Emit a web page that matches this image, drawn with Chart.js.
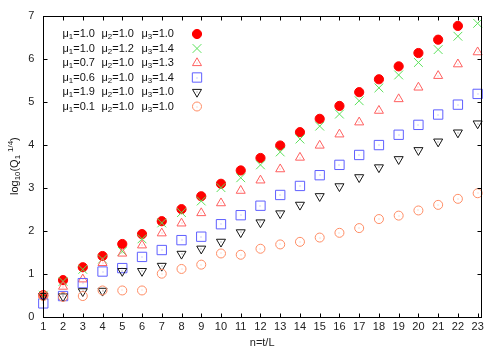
<!DOCTYPE html>
<html>
<head>
<meta charset="utf-8">
<script src="https://cdn.jsdelivr.net/npm/chart.js@4/dist/chart.umd.min.js"></script>
<style>
  html, body { margin: 0; padding: 0; background: #fff; }
  #wrap { width: 500px; height: 350px; }
</style>
</head>
<body>
<div id="wrap"><canvas id="graph" width="500" height="350"></canvas></div>
<script>
// valores (n = t/L)
const nValues = [1,2,3,4,5,6,7,8,9,10,11,12,13,14,15,16,17,18,19,20,21,22,23];
const yTicks = [0,1,2,3,4,5,6,7];

const mu1 = ['1.0','1.0','0.7','0.6','1.9','0.1'];
const mu2 = ['1.0','1.2','1.0','1.0','1.0','1.0'];
const mu3 = ['1.0','1.4','1.3','1.4','1.0','1.0'];

const serieA = [0.50,0.85,1.15,1.41,1.69,1.92,2.22,2.50,2.80,3.09,3.40,3.69,3.98,4.29,4.60,4.90,5.22,5.52,5.82,6.13,6.44,6.76,null];
const serieB = [0.50,0.82,1.10,1.34,1.52,1.81,2.18,2.42,2.69,3.00,3.23,3.53,3.83,4.13,4.43,4.71,5.02,5.32,5.62,5.91,6.21,6.52,6.82];
const serieC = [0.50,0.70,0.87,1.25,1.47,1.66,1.94,2.17,2.41,2.64,2.93,3.17,3.43,3.70,3.98,4.24,4.52,4.79,5.06,5.33,5.60,5.87,6.15];
const serieD = [0.31,0.48,0.78,1.05,1.13,1.39,1.55,1.78,1.86,2.15,2.36,2.58,2.83,3.04,3.29,3.53,3.76,3.99,4.23,4.46,4.70,4.93,5.18];
const serieE = [0.48,0.47,0.59,0.60,1.06,1.06,1.18,1.46,1.58,1.74,1.96,2.19,2.40,2.60,2.80,3.03,3.24,3.47,3.66,3.87,4.07,4.28,4.49];
const serieF = [0.48,0.46,0.48,0.61,0.61,0.61,1.00,1.11,1.21,1.47,1.44,1.58,1.68,1.74,1.84,1.95,2.06,2.27,2.35,2.47,2.60,2.74,2.87];

const series = [serieA, serieB, serieC, serieD, serieE, serieF];

// estilo de cada série (marcadores do gnuplot)
const estilos = [
  { pointStyle: 'circle',   radius: 4.6, rotation: 0,   color: 'rgb(255,0,0)',     fill: 'rgb(255,0,0)' },
  { pointStyle: 'crossRot', radius: 6.2, rotation: 0,   color: 'rgb(90,225,90)',   fill: 'transparent' },
  { pointStyle: 'triangle', radius: 5.2, rotation: 0,   color: 'rgb(255,95,95)',   fill: 'transparent' },
  { pointStyle: 'rect',     radius: 6.6, rotation: 0,   color: 'rgb(95,95,255)',   fill: 'transparent' },
  { pointStyle: 'triangle', radius: 5.2, rotation: 180, color: 'rgb(20,20,20)',    fill: 'transparent' },
  { pointStyle: 'circle',   radius: 4.5, rotation: 0,   color: 'rgb(255,140,100)', fill: 'transparent' }
];

const FONT = '"Liberation Sans", Arial, Helvetica, sans-serif';

const datasets = series.map((vals, i) => ({
  data: nValues.map((n, k) => ({ x: n, y: vals[k] })),
  showLine: false,
  pointStyle: estilos[i].pointStyle,
  pointRadius: estilos[i].radius,
  pointHoverRadius: estilos[i].radius,
  pointRotation: estilos[i].rotation,
  borderColor: estilos[i].color,
  backgroundColor: estilos[i].fill,
  pointBorderWidth: 1,
  clip: false,
  order: 6 - i
}));

// desenha texto com subscrito/sobrescrito, partes: [texto, 'n'|'sub'|'sup']
function textoRico(ctx, partes, x, y, size) {
  let cx = x;
  partes.forEach(([t, modo]) => {
    const s = modo === 'n' ? size : size * 0.72;
    const dy = modo === 'sub' ? size * 0.3 : (modo === 'sup' ? -size * 0.38 : 0);
    ctx.font = s + 'px ' + FONT;
    ctx.fillText(t, cx, y + dy);
    cx += ctx.measureText(t).width;
  });
  return cx - x;
}
function larguraRica(ctx, partes, size) {
  let w = 0;
  partes.forEach(([t, modo]) => {
    const s = modo === 'n' ? size : size * 0.72;
    ctx.font = s + 'px ' + FONT;
    w += ctx.measureText(t).width;
  });
  return w;
}

// pontinho central dos marcadores vazios (como no gnuplot)
const pontoPlugin = {
  id: 'ponto',
  afterDatasetsDraw(chart) {
    const ctx = chart.ctx;
    ctx.save();
    chart.data.datasets.forEach((ds, i) => {
      if (i === 0 || i === 1) return;
      const meta = chart.getDatasetMeta(i);
      ctx.fillStyle = estilos[i].color;
      ctx.globalAlpha = 0.6;
      meta.data.forEach(el => {
        if (el.skip || isNaN(el.y)) return;
        ctx.fillRect(Math.round(el.x) - 0.5, Math.round(el.y) - 0.5, 1, 1);
      });
    });
    ctx.restore();
  }
};

// moldura com marcas internas, legenda e título do eixo y
const molduraPlugin = {
  id: 'moldura',
  afterDraw(chart) {
    const ctx = chart.ctx;
    const a = chart.chartArea;
    const xs = chart.scales.x, ys = chart.scales.y;
    const L = Math.round(a.left) + 0.5, R = Math.round(a.right) + 0.5;
    const T = Math.round(a.top) + 0.5, B = Math.round(a.bottom) + 0.5;
    ctx.save();
    ctx.strokeStyle = '#000';
    ctx.lineWidth = 1;
    ctx.strokeRect(L, T, R - L, B - T);
    ctx.beginPath();
    nValues.forEach(n => {
      const px = Math.round(xs.getPixelForValue(n)) + 0.5;
      ctx.moveTo(px, B); ctx.lineTo(px, B - 4);
      ctx.moveTo(px, T); ctx.lineTo(px, T + 4);
    });
    yTicks.forEach(v => {
      const py = Math.round(ys.getPixelForValue(v)) + 0.5;
      ctx.moveTo(L, py); ctx.lineTo(L + 4, py);
      ctx.moveTo(R, py); ctx.lineTo(R - 4, py);
    });
    ctx.stroke();

    // legenda
    ctx.fillStyle = '#111';
    ctx.textBaseline = 'middle';
    ctx.textAlign = 'left';
    const linhaY0 = 34, passo = 14.5;
    for (let i = 0; i < 6; i++) {
      const y = linhaY0 + i * passo;
      textoRico(ctx, [['μ','n'],['1','sub'],['=' + mu1[i],'n']], 62.5, y, 11);
      textoRico(ctx, [['μ','n'],['2','sub'],['=' + mu2[i],'n']], 101.5, y, 11);
      textoRico(ctx, [['μ','n'],['3','sub'],['=' + mu3[i],'n']], 141.5, y, 11);
      const e = estilos[i];
      ctx.strokeStyle = e.color;
      ctx.fillStyle = e.fill;
      ctx.lineWidth = 1;
      Chart.helpers.drawPoint(ctx, { pointStyle: e.pointStyle, radius: e.radius, rotation: e.rotation, borderWidth: 1 }, 197, y);
      if (i > 1) {
        ctx.fillStyle = e.color;
        ctx.globalAlpha = 0.6;
        ctx.fillRect(196.5, Math.round(y) - 0.5, 1, 1);
        ctx.globalAlpha = 1;
      }
      ctx.fillStyle = '#111';
    }

    // título do eixo y
    const partes = [['log','n'],['10','sub'],['(Q','n'],['1','sub'],[' ','n'],['1/4','sup'],[')','n']];
    ctx.translate(15, (a.top + a.bottom) / 2);
    ctx.rotate(-Math.PI / 2);
    const w = larguraRica(ctx, partes, 11);
    textoRico(ctx, partes, -w / 2, 0, 11);
    ctx.restore();
  }
};

const ctxGrafico = document.getElementById('graph').getContext('2d');
new Chart(ctxGrafico, {
  type: 'scatter',
  data: { datasets: datasets },
  plugins: [pontoPlugin, molduraPlugin],
  options: {
    responsive: false,
    animation: false,
    events: [],
    layout: { padding: { top: 13, right: 19, left: 0, bottom: 0 } },
    plugins: { legend: { display: false }, tooltip: { enabled: false } },
    scales: {
      x: {
        type: 'linear',
        min: 1,
        max: 23.17,
        border: { display: false },
        grid: { display: false, drawTicks: false },
        afterBuildTicks: s => { s.ticks = nValues.map(v => ({ value: v })); },
        afterFit: s => { s.height = 33.3; },
        ticks: { padding: 4, color: '#222', font: { family: FONT, size: 11 }, maxRotation: 0, autoSkip: false },
        title: { display: true, text: 'n=t/L', color: '#222', font: { family: FONT, size: 11 }, padding: { top: 0, bottom: 0 } }
      },
      y: {
        type: 'linear',
        min: 0,
        max: 7,
        border: { display: false },
        grid: { display: false, drawTicks: false },
        afterBuildTicks: s => { s.ticks = yTicks.map(v => ({ value: v })); },
        afterFit: s => { s.width = 43.3; },
        ticks: { padding: 9, color: '#222', font: { family: FONT, size: 11 } }
      }
    }
  }
});
</script>
</body>
</html>
